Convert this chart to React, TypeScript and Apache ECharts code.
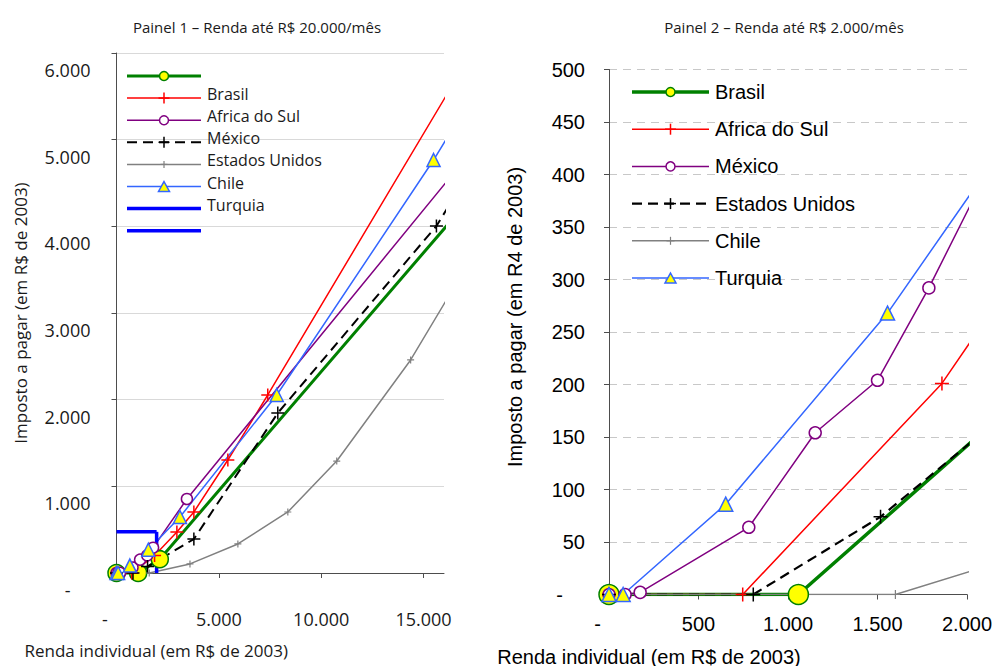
import { useEffect, useRef } from 'react';
import * as echarts from 'echarts';

// ---------- data ----------
const panelTitles = ['Painel 1 – Renda até R$ 20.000/mês', 'Painel 2 – Renda até R$ 2.000/mês'];
const countries = ['Brasil', 'Africa do Sul', 'México', 'Estados Unidos', 'Chile', 'Turquia'];
const faixaNames = ['Série 7', 'Série 8'];

// [renda individual, imposto a pagar] in R$ de 2003
const brasil = [[0, 0], [1058, 0], [2115, 159], [16400, 4080]];
const africaDoSul = [[0, 0], [747, 0], [1860, 201], [2950, 473], [3780, 704], [5440, 1304], [7390, 2054], [16270, 5573]];
const mexico = [[0, 0], [90, 0], [174, 2], [781, 64], [1152, 154], [1500, 204], [1787, 292], [3440, 854], [16270, 4557]];
const estadosUnidos = [[0, 0], [806, 0], [1517, 74], [3780, 392], [7880, 1846], [15630, 4004], [16170, 4211]];
const chile = [[0, 0], [1600, 0], [3590, 105], [5930, 335], [8370, 704], [10760, 1292], [14370, 2458], [16320, 3230]];
const turquia = [[0, 0], [79, 0], [652, 86], [1556, 268], [3100, 646], [7830, 2054], [15490, 4765], [16320, 5088]];
const faixaHorizontal = [[0, 475], [1960, 475]];
const faixaVertical = [[1960, 475], [1960, 0]];

const leftXTicks = [0, 5000, 10000, 15000];
const leftXMax = 16000;
const leftYMax = 6000;
const leftYStep = 1000;
const rightXMax = 2000;
const rightXStep = 500;
const rightYMax = 500;
const rightYStep = 50;

const xName = 'Renda individual (em R$ de 2003)';
const yNames = ['Imposto a pagar (em R$ de 2003)', 'Imposto a pagar (em R4 de 2003)'];

// ---------- styles ----------
const PLUS = 'path://M0,5L10,5M5,0L5,10';
const countryData = [brasil, africaDoSul, mexico, estadosUnidos, chile, turquia];
const styles: any[] = [
  { color: '#008000', lw: [3, 3.5], sym: 'circle', size: [17, 20], fill: '#FFFF00', bw: 1.5, lg: [9, 9] },
  { color: '#FF0000', lw: [1.5, 1.5], sym: PLUS, size: [13, 14], fill: '#FF0000', bw: 1.5, lg: [11, 11] },
  { color: '#800080', lw: [1.5, 1.5], sym: 'circle', size: [11, 12], fill: '#FFFFFF', bw: 1.5, lg: [9, 9] },
  { color: '#000000', lw: [2, 2.2], dash: [10, 6], sym: PLUS, size: [13, 14], fill: '#000000', bw: 1.5, lg: [11, 11] },
  { color: '#808080', lw: [1.5, 1.5], sym: PLUS, size: [7, 9], fill: '#808080', bw: 1.2, lg: [7, 8] },
  { color: '#3366FF', lw: [1.5, 1.5], sym: 'triangle', size: [13, 14], fill: '#FFFF00', bw: 1.5, lg: [11, 11] },
];
const faixaStyle = { color: '#0000FF', lw: [3.5, 3.5], sym: 'none' };

const LEFT_FONT = '"Open Sans", "Noto Sans", sans-serif';
const RIGHT_FONT = '"Liberation Sans", Arial, sans-serif';

const fmt = (v: number) => String(v).replace(/\B(?=(\d{3})+(?!\d))/g, '.');

function buildSeries(panel: number) {
  const out: any[] = countryData.map((data, i) => {
    const s = styles[i];
    return {
      type: 'line',
      name: countries[i],
      xAxisIndex: panel,
      yAxisIndex: panel,
      data: data.map((p, j) => (j === data.length - 1 ? { value: p, symbol: 'none' } : p)),
      symbol: s.sym,
      symbolSize: s.size[panel],
      showAllSymbol: true,
      clip: panel === 1,
      silent: true,
      lineStyle: { color: s.color, width: s.lw[panel], type: s.dash ?? 'solid' },
      itemStyle: { color: s.fill, borderColor: s.color, borderWidth: s.bw },
      emphasis: { disabled: true },
    };
  });
  if (panel === 0) {
    [faixaHorizontal, faixaVertical].forEach((data, k) => {
      out.push({
        type: 'line',
        name: faixaNames[k],
        xAxisIndex: 0,
        yAxisIndex: 0,
        data,
        symbol: 'none',
        clip: false,
        silent: true,
        lineStyle: { color: faixaStyle.color, width: faixaStyle.lw[0] },
        emphasis: { disabled: true },
      });
    });
  }
  return out;
}

function markerEls(s: any, cx: number, cy: number, sz: number) {
  if (!s || s.sym === 'none') return [];
  if (s.sym === 'circle') {
    return [{ type: 'circle', shape: { cx, cy, r: sz / 2 }, style: { fill: s.fill, stroke: s.color, lineWidth: s.bw }, z: 101 }];
  }
  if (s.sym === 'triangle') {
    const h = sz * 0.9;
    return [{
      type: 'polygon',
      shape: { points: [[cx, cy - h / 2], [cx + sz / 2, cy + h / 2], [cx - sz / 2, cy + h / 2]] },
      style: { fill: s.fill, stroke: s.color, lineWidth: s.bw }, z: 101,
    }];
  }
  return [
    { type: 'line', shape: { x1: cx - sz / 2, y1: cy, x2: cx + sz / 2, y2: cy }, style: { stroke: s.color, lineWidth: s.bw }, z: 101 },
    { type: 'line', shape: { x1: cx, y1: cy - sz / 2, x2: cx, y2: cy + sz / 2 }, style: { stroke: s.color, lineWidth: s.bw }, z: 101 },
  ];
}

function legendEls(opts: { rows: any[]; labels: string[]; x0: number; x1: number; y0: number; dy: number; labelDy: number; font: string; fontSize: number; panel: number; color: string }) {
  const els: any[] = [];
  opts.rows.forEach((s, i) => {
    const y = opts.y0 + i * opts.dy;
    els.push({
      type: 'line',
      shape: { x1: opts.x0, y1: y, x2: opts.x1, y2: y },
      style: { stroke: s.color, lineWidth: s.lw[opts.panel], lineDash: s.dash ?? null },
      z: 100,
    });
    els.push(...markerEls(s, (opts.x0 + opts.x1) / 2, y, s.lg ? s.lg[opts.panel] : 0));
    if (opts.labels[i]) {
      els.push({
        type: 'text',
        x: opts.x1 + 6,
        y: y + opts.labelDy,
        style: {
          text: opts.labels[i],
          fill: opts.color,
          fontSize: opts.fontSize,
          fontFamily: opts.font,
          align: 'left',
          verticalAlign: 'middle',
        },
        z: 100,
      });
    }
  });
  return els;
}

export default function App() {
  const ref = useRef<HTMLDivElement>(null);

  useEffect(() => {
    if (!ref.current) return;
    const chart = echarts.init(ref.current, undefined, { renderer: 'svg' });

    const leftTextColor = '#1a1a1a';
    const axisColor = '#4d4d4d';

    const option: any = {
      animation: false,
      backgroundColor: '#ffffff',
      title: [
        { text: panelTitles[0], left: 252, top: 14, textAlign: 'center', textStyle: { fontSize: 15, fontWeight: 'normal', color: leftTextColor, fontFamily: LEFT_FONT } },
        { text: panelTitles[1], left: 779, top: 14, textAlign: 'center', textStyle: { fontSize: 15, fontWeight: 'normal', color: leftTextColor, fontFamily: LEFT_FONT } },
      ],
      grid: [
        { left: 116.5, top: 53, width: 327.5, height: 520, outerBoundsMode: 'none', containLabel: false },
        { left: 609, top: 69.5, width: 358, height: 525, outerBoundsMode: 'none', containLabel: false },
      ],
      xAxis: [
        {
          gridIndex: 0, type: 'value', min: 0, max: leftXMax, interval: 5000,
          axisLine: { show: true, lineStyle: { color: axisColor, width: 1 } },
          axisTick: { show: true, inside: false, length: 5, lineStyle: { color: axisColor }, customValues: leftXTicks.slice(1) },
          splitLine: { show: false },
          axisLabel: {
            customValues: leftXTicks,
            margin: 37, color: leftTextColor, fontSize: 18, fontFamily: LEFT_FONT,
            formatter: (v: number) => (v === 0 ? '{z|-}' : fmt(v)),
            rich: { z: { fontSize: 18, fontFamily: LEFT_FONT, color: leftTextColor, padding: [0, 23, 0, 0] } },
          },
          name: xName, nameLocation: 'middle', nameGap: 69,
          nameTextStyle: { fontSize: 17, fontFamily: LEFT_FONT, color: leftTextColor, padding: [0, 248, 0, 0] },
        },
        {
          gridIndex: 1, type: 'value', min: 0, max: rightXMax, interval: rightXStep,
          axisLine: { show: true, lineStyle: { color: axisColor, width: 1 } },
          axisTick: { show: true, inside: false, length: 5, lineStyle: { color: axisColor } },
          splitLine: { show: false },
          axisLabel: {
            margin: 19, color: '#000', fontSize: 20, fontFamily: RIGHT_FONT,
            formatter: (v: number) => (v === 0 ? '{z|-}' : fmt(v)),
            rich: { z: { fontSize: 20, fontFamily: RIGHT_FONT, color: '#000', padding: [0, 23, 0, 0] } },
          },
          name: xName, nameLocation: 'middle', nameGap: 52,
          nameTextStyle: { fontSize: 20, fontFamily: RIGHT_FONT, color: '#000', padding: [0, 278, 0, 0] },
        },
      ],
      yAxis: [
        {
          gridIndex: 0, type: 'value', min: 0, max: leftYMax, interval: leftYStep,
          axisLine: { show: true, lineStyle: { color: axisColor, width: 1 } },
          axisTick: { show: true, inside: false, length: 5, lineStyle: { color: axisColor } },
          splitLine: { show: true, lineStyle: { color: '#d9d9d9', width: 1, type: 'solid' } },
          axisLabel: {
            margin: 26, color: leftTextColor, fontSize: 18, fontFamily: LEFT_FONT,
            verticalAlign: 'middle', padding: [34, 0, 0, 0],
            formatter: (v: number) => (v === 0 ? '{z|-}' : fmt(v)),
            rich: { z: { fontSize: 18, fontFamily: LEFT_FONT, color: leftTextColor, padding: [0, 20, 0, 0] } },
          },
          name: yNames[0], nameLocation: 'middle', nameGap: 88,
          nameTextStyle: { fontSize: 17, fontFamily: LEFT_FONT, color: leftTextColor },
        },
        {
          gridIndex: 1, type: 'value', min: 0, max: rightYMax, interval: rightYStep,
          axisLine: { show: true, lineStyle: { color: axisColor, width: 1 } },
          axisTick: { show: true, inside: false, length: 5, lineStyle: { color: axisColor } },
          splitLine: { show: true, lineStyle: { color: '#c8c8c8', width: 1, type: [8, 6] } },
          axisLabel: {
            margin: 24, color: '#000', fontSize: 20, fontFamily: RIGHT_FONT,
            formatter: (v: number) => (v === 0 ? '{z|-}' : fmt(v)),
            rich: { z: { fontSize: 20, fontFamily: RIGHT_FONT, color: '#000', padding: [0, 22, 0, 0] } },
          },
          name: yNames[1], nameLocation: 'middle', nameGap: 84,
          nameTextStyle: { fontSize: 20, fontFamily: RIGHT_FONT, color: '#000', padding: [0, 0, 0, 30] },
        },
      ],
      series: [...buildSeries(0), ...buildSeries(1)],
      graphic: [
        ...legendEls({
          rows: [...styles, faixaStyle, faixaStyle],
          labels: ['', ...countries, ''],
          x0: 127, x1: 201, y0: 76, dy: 22.1, labelDy: -4,
          font: LEFT_FONT, fontSize: 16, panel: 0, color: leftTextColor,
        }),
        ...legendEls({
          rows: styles,
          labels: countries,
          x0: 632, x1: 709, y0: 92, dy: 37.2, labelDy: 0,
          font: RIGHT_FONT, fontSize: 20, panel: 1, color: '#000',
        }),
      ],
    };

    chart.setOption(option);
    return () => chart.dispose();
  }, []);

  return <div ref={ref} style={{ position: 'fixed', left: 0, top: 0, width: 992, height: 666 }} />;
}
